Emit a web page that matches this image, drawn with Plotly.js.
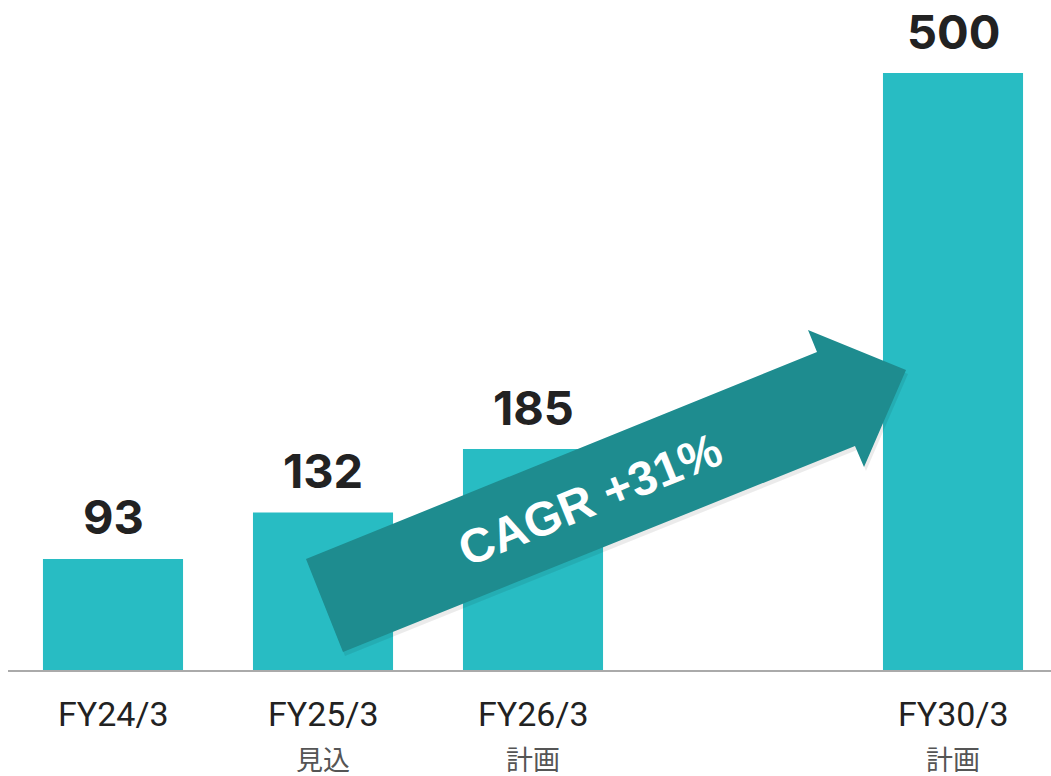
<!DOCTYPE html>
<html>
<head>
<meta charset="utf-8">
<script src="https://cdn.plot.ly/plotly-3.0.1.min.js"></script>
<style>
  html, body { margin: 0; padding: 0; background: #ffffff; }
  #chart { width: 1051px; height: 776px; }
</style>
</head>
<body>
<div id="chart"></div>
<script>
// ---- data ----
const categories = ['FY24/3', 'FY25/3', 'FY26/3', 'FY30/3'];
const slots = [0, 1, 2, 4];           // FY27-FY29 slot left empty
const notes = ['', '見込', '計画', '計画'];
const values = [93, 132, 185, 500];
const cagrLabel = 'CAGR +31%';

// ---- styling ----
const W = 1051, H = 776;
const M = { l: 8, r: 0, t: 0, b: 106 };
const plotW = W - M.l - M.r, plotH = H - M.t - M.b;
const barColor = '#28BCC3';
const arrowColor = '#1E8C8F';

// pixel -> paper helpers for the decorative arrow
const PX = p => (p - M.l) / plotW;
const PY = p => (H - M.b - p) / plotH;
function pathFrom(pts, dx, dy) {
  return pts.map((p, i) => (i ? 'L' : 'M') + PX(p[0] + dx).toFixed(5) + ',' + PY(p[1] + dy).toFixed(5)).join(' ') + ' Z';
}
const arrowPts = [[306, 559], [817, 352], [808, 330], [906, 370], [864, 467], [855, 446], [343, 652]];

const trace = {
  type: 'bar',
  x: slots,
  y: values,
  width: 0.667,
  marker: { color: barColor, line: { width: 0 } },
  hoverinfo: 'skip'
};

const annotations = [];
values.forEach((v, i) => {
  annotations.push({
    x: slots[i], y: v, xref: 'x', yref: 'y',
    text: String(v), showarrow: false,
    yanchor: 'middle', yshift: 42,
    font: { family: 'Inter, sans-serif', size: 47, color: '#222222', weight: 700 }
  });
  annotations.push({
    x: slots[i], y: 0, xref: 'x', yref: 'y',
    text: categories[i], showarrow: false,
    yanchor: 'middle', yshift: -44,
    font: { family: 'Roboto, sans-serif', size: 34, color: '#222222' }
  });
  if (notes[i]) {
    annotations.push({
      x: slots[i], y: 0, xref: 'x', yref: 'y',
      text: notes[i], showarrow: false,
      height: 28, valign: 'middle',
      yanchor: 'middle', yshift: -88,
      font: { family: 'Noto Sans CJK JP, sans-serif', size: 27, color: '#555555' }
    });
  }
});
annotations.push({
  x: PX(590), y: PY(500), xref: 'paper', yref: 'paper',
  text: cagrLabel, showarrow: false, textangle: -22,
  xanchor: 'center', yanchor: 'middle',
  font: { family: 'Liberation Sans, Arial, sans-serif', size: 48, color: '#ffffff', weight: 'bold' }
});

const layout = {
  width: W, height: H,
  margin: M,
  paper_bgcolor: '#ffffff',
  plot_bgcolor: '#ffffff',
  showlegend: false,
  xaxis: {
    range: [-0.5, 4 + (W - M.r - 953) / 210],
    showgrid: false, zeroline: false,
    showline: true, linecolor: '#AAAAAA', linewidth: 2,
    showticklabels: false, ticks: '', fixedrange: true
  },
  yaxis: {
    range: [0, plotH / 1.194],
    showgrid: false, zeroline: false, showline: false,
    showticklabels: false, ticks: '', fixedrange: true
  },
  shapes: [
    { type: 'path', xref: 'paper', yref: 'paper', layer: 'above',
      path: pathFrom(arrowPts, 2, 4), fillcolor: 'rgba(0,0,0,0.08)', line: { width: 0 } },
    { type: 'path', xref: 'paper', yref: 'paper', layer: 'above',
      path: pathFrom(arrowPts, 0, 0), fillcolor: arrowColor, line: { width: 0 } }
  ],
  annotations: annotations
};

Plotly.newPlot('chart', [trace], layout, { displayModeBar: false, staticPlot: true });
</script>
</body>
</html>
